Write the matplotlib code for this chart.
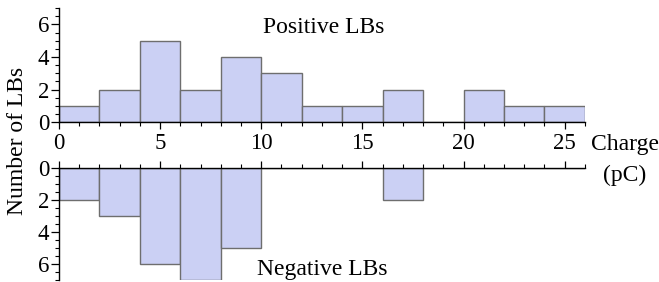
import matplotlib.pyplot as plt
from matplotlib.ticker import MultipleLocator
import numpy as np

plt.rcParams['font.family'] = ['Liberation Serif', 'DejaVu Serif']

# histogram bins (pC) and counts
bin_left = np.arange(0, 26, 2)
positive = [1, 2, 5, 2, 4, 3, 1, 1, 2, 0, 2, 1, 1]
negative = [2, 3, 6, 7, 5, 0, 0, 0, 2, 0, 0, 0, 0]

face = '#cbd0f4'
edge = '#6e6e6e'
fs = 16.5
lfs = 17

fig = plt.figure(figsize=(6.59, 2.82), dpi=100)
ax1 = fig.add_axes([0.0895, 0.567, 0.798, 0.404])
ax2 = fig.add_axes([0.0895, 0.006, 0.798, 0.397])

ax1.bar(bin_left, positive, width=2, align='edge', color=face,
        edgecolor=edge, linewidth=1.0)
ax2.bar(bin_left, negative, width=2, align='edge', color=face,
        edgecolor=edge, linewidth=1.0)

for ax in (ax1, ax2):
    ax.set_xlim(0, 26)
    ax.set_ylim(0, 7)
    ax.xaxis.set_major_locator(MultipleLocator(5))
    ax.xaxis.set_minor_locator(MultipleLocator(1))
    ax.yaxis.set_major_locator(MultipleLocator(2))
    ax.yaxis.set_minor_locator(MultipleLocator(0.5))
    ax.spines['right'].set_visible(False)
    ax.tick_params(which='major', length=5, width=0.9, labelsize=fs,
                   direction='out', pad=1)
    ax.tick_params(which='minor', length=3, width=0.8, direction='out')
    ax.tick_params(axis='y', which='major', length=6)
    for s in ax.spines.values():
        s.set_linewidth(1.0)

ax1.spines['top'].set_visible(False)
ax1.tick_params(axis='x', pad=3)

ax2.invert_yaxis()
ax2.spines['bottom'].set_visible(False)
ax2.xaxis.set_ticks_position('top')
ax2.tick_params(axis='x', labeltop=False, labelbottom=False)

ax1.text(13.1, 5.8, 'Positive LBs', ha='center', va='center', fontsize=lfs)
ax2.text(13.0, 6.3, 'Negative LBs', ha='center', va='center', fontsize=lfs)

fig.text(0.027, 0.5, 'Number of LBs', rotation=90, ha='center', va='center',
         fontsize=lfs)
fig.text(0.948, 0.486, 'Charge', ha='center', va='center', fontsize=lfs)
fig.text(0.948, 0.379, '(pC)', ha='center', va='center', fontsize=lfs)

fig.savefig('out.png', dpi=100)
